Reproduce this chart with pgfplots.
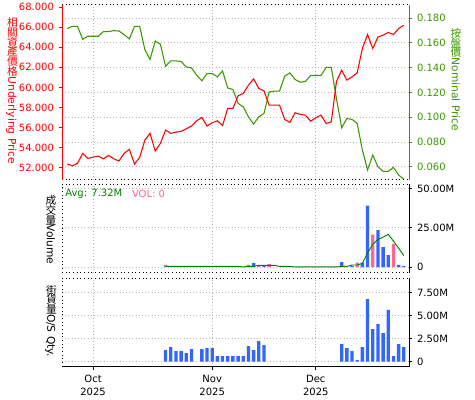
\documentclass[border=0pt]{standalone}
\usepackage{fontspec}
\setmainfont{DejaVu Sans}
\newfontfamily\cjk{Noto Sans CJK TC}
\usepackage{graphicx}
\usepackage{pgfplots}
\pgfplotsset{compat=1.18}

\definecolor{cred}{RGB}{255,0,0}
\definecolor{cgreen}{RGB}{60,150,0}
\definecolor{cavg}{RGB}{0,128,0}
\definecolor{cblue}{RGB}{51,102,255}
\definecolor{cpink}{RGB}{255,102,153}
\definecolor{cgrid}{RGB}{180,180,180}

\newcommand{\up}[1]{\raisebox{-0.12em}{\rotatebox{90}{\cjk #1}}}

\pgfplotstableread{
x y
-5 52.37
-4 52.20
-3 52.44
-2 53.43
-1 52.93
0 53.06
1 53.16
2 52.89
3 53.23
4 52.89
5 52.67
6 53.43
7 53.83
8 52.37
9 53.03
10 54.75
11 55.42
12 53.66
13 54.43
14 55.75
15 55.42
16 55.55
17 55.62
18 55.88
19 56.15
20 56.67
21 57.01
22 56.15
23 56.48
24 56.67
25 56.21
26 57.90
27 57.90
28 59.16
29 59.40
30 60.22
31 60.85
32 59.89
33 59.65
34 58.23
35 58.23
36 58.23
37 56.81
38 56.51
39 57.47
40 57.31
41 57.24
42 56.64
43 56.97
44 57.24
45 56.41
46 56.57
47 60.60
48 61.71
49 60.72
50 61.05
51 61.45
52 63.87
53 65.26
54 63.87
55 65.02
56 65.19
57 65.46
58 65.26
59 65.86
60 66.18
}\underlying

\pgfplotstableread{
x y
-5 0.1715
-4 0.1733
-3 0.1733
-2 0.1628
-1 0.1653
0 0.1653
1 0.1653
2 0.1690
3 0.1690
4 0.1698
5 0.1695
6 0.1666
7 0.1631
8 0.1733
9 0.1733
10 0.1545
11 0.1465
12 0.1615
13 0.1588
14 0.1411
15 0.1454
16 0.1454
17 0.1449
18 0.1405
19 0.1397
20 0.1339
21 0.1293
22 0.1352
23 0.1352
24 0.1325
25 0.1373
26 0.1236
27 0.1223
28 0.1111
29 0.1083
30 0.1003
31 0.0944
32 0.1003
33 0.1030
34 0.1204
35 0.1210
36 0.1210
37 0.1331
38 0.1357
39 0.1304
40 0.1282
41 0.1288
42 0.1336
43 0.1336
44 0.1336
45 0.1401
46 0.1401
47 0.1150
48 0.0914
49 0.0989
50 0.0982
51 0.0949
52 0.0735
53 0.0574
54 0.0694
55 0.0600
56 0.0563
57 0.0563
58 0.0595
59 0.0533
60 0.0499
}\nominal

\pgfplotstableread{
x y
14 1.3
30 1.3
32 0.6
34 1.9
51 2.75
54 20.6
58 14.8
}\volup

\pgfplotstableread{
x y
31 2.5
33 0.6
48 3.2
50 0.85
52 2.75
53 39.0
55 23.5
56 12.7
57 7.6
59 1.3
60 0.6
}\voldown

\pgfplotstableread{
x y
14 0.45
15 0.45
16 0.45
17 0.45
18 0.45
19 0.45
20 0.45
21 0.45
22 0.45
23 0.45
24 0.45
25 0.45
26 0.45
27 0.45
28 0.45
29 0.05
30 0.45
31 0.45
32 1.1
33 1.1
34 1.1
35 1.1
36 0.45
37 0.45
38 0.45
39 0.05
40 0.05
41 0.05
42 0.05
43 0.05
44 0.05
45 0.05
46 0.05
47 0.05
48 0.4
49 0.4
50 1.3
51 1.3
52 2.3
53 9.0
54 14.5
55 17.5
56 19.0
57 20.8
58 16.5
59 12.0
60 7.3
}\volavg

\pgfplotstableread{
x y
14 1.27
15 1.59
16 1.16
17 1.16
18 0.94
19 1.38
21 1.38
22 1.49
23 1.49
24 0.62
25 0.62
26 0.62
27 0.62
28 0.62
29 0.62
30 1.70
31 1.27
32 2.25
33 1.81
48 1.92
49 1.49
50 1.16
51 0.18
52 1.59
53 6.81
54 3.55
55 4.09
56 3.12
57 5.62
58 0.62
59 1.92
60 1.59
}\osqty

\pgfplotsset{
  base/.style={
    scale only axis, anchor=south west,
    xmin=-6, xmax=61, width=260.25pt,
    axis line style={draw=none},
    major tick length=2.5pt, tick align=outside,
    tick style={line width=0.6pt},
    font=\fontsize{7.5}{9}\selectfont,
    /pgf/number format/assume math mode=true,
    grid style={cgrid, dotted, line width=0.6pt},
  },
}

\begin{document}
\begin{tikzpicture}
\useasboundingbox (0,0) rectangle (356.25pt,300pt);

% ---------- top panel: right axis (nominal price) ----------
\begin{axis}[base, at={(46.5pt,165pt)}, height=131.25pt,
  ymin=0.0493, ymax=0.1905,
  ytick={0.06,0.08,0.10,0.12,0.14,0.16,0.18},
  yticklabels={0.060,0.080,0.100,0.120,0.140,0.160,0.180},
  ytick pos=right, y tick style={cgreen},
  yticklabel style={text=cgreen},
  xtick={0,23,43}, xticklabels={}, x tick style={draw=none},
  grid=major]
\addplot[cgreen, line width=0.8pt, no markers] table[x=x,y=y] {\nominal};
\end{axis}

% ---------- top panel: left axis (underlying price) ----------
\begin{axis}[base, at={(46.5pt,165pt)}, height=131.25pt,
  ymin=50.78, ymax=68.2,
  ytick={52,54,56,58,60,62,64,66,68},
  yticklabels={52.000,54.000,56.000,58.000,60.000,62.000,64.000,66.000,68.000},
  ytick pos=left, y tick style={cred},
  yticklabel style={text=cred},
  xtick=\empty]
\addplot[cred, line width=0.8pt, no markers] table[x=x,y=y] {\underlying};
\end{axis}

% ---------- middle panel: volume ----------
\begin{axis}[base, at={(46.5pt,95.475pt)}, height=66.15pt,
  ymin=-3.6, ymax=52.5,
  ytick={0,25,50}, yticklabels={0,25.00M,50.00M},
  ytick pos=right, y tick style={black},
  xtick={0,23,43}, xticklabels={}, x tick style={draw=none},
  grid=major]
\addplot[ybar, bar width=2.5pt, bar shift=0pt, fill=cpink, draw=none] table[x=x,y=y] {\volup};
\addplot[ybar, bar width=2.5pt, bar shift=0pt, fill=cblue, draw=none] table[x=x,y=y] {\voldown};
\addplot[cavg, line width=0.7pt, no markers] table[x=x,y=y] {\volavg};
\end{axis}

% ---------- bottom panel: outstanding quantity ----------
\begin{axis}[base, at={(46.5pt,24.975pt)}, height=66.15pt,
  ymin=-0.54, ymax=9.04,
  ytick={0,2.5,5,7.5}, yticklabels={0,2.50M,5.00M,7.50M},
  ytick pos=right, y tick style={black},
  xtick={0,23,43},
  xticklabels={{Oct\\2025},{Nov\\2025},{Dec\\2025}},
  xtick pos=bottom, x tick style={black},
  xticklabel style={align=center, font=\fontsize{7.5}{10}\selectfont},
  grid=major]
\addplot[ybar, bar width=2.5pt, bar shift=0pt, fill=cblue, draw=none] table[x=x,y=y] {\osqty};
\end{axis}

% ---------- frames ----------
% top
\draw[black, dotted, line width=0.75pt] (46.5pt,296.25pt) -- (306.75pt,296.25pt);
\draw[black, dotted, line width=0.75pt] (46.5pt,165pt) -- (306.75pt,165pt);
\draw[cred, line width=0.75pt] (46.5pt,165pt) -- (46.5pt,296.25pt);
\draw[cgreen, line width=0.75pt] (306.75pt,165pt) -- (306.75pt,296.25pt);
% middle
\draw[black, dotted, line width=0.75pt] (46.5pt,161.625pt) -- (306.75pt,161.625pt);
\draw[black, dotted, line width=0.75pt] (46.5pt,95.475pt) -- (306.75pt,95.475pt);
\draw[black, dotted, line width=0.75pt] (46.5pt,95.475pt) -- (46.5pt,161.625pt);
\draw[black, line width=0.75pt] (306.75pt,95.475pt) -- (306.75pt,161.625pt);
% bottom
\draw[black, dotted, line width=0.75pt] (46.5pt,91.125pt) -- (306.75pt,91.125pt);
\draw[black, dotted, line width=0.75pt] (46.5pt,24.975pt) -- (46.5pt,91.125pt);
\draw[black, line width=0.75pt] (46.5pt,24.975pt) -- (306.75pt,24.975pt);
\draw[black, line width=0.75pt] (306.75pt,24.975pt) -- (306.75pt,91.125pt);

% ---------- labels ----------
\node[rotate=-90, text=cred, font=\fontsize{8}{9}\selectfont, inner sep=0pt] at (9pt,231.75pt)
  {\up{相}\up{關}\up{資}\up{產}\up{價}\up{格}Underlying Price};
\node[rotate=-90, text=cgreen, font=\fontsize{8}{9}\selectfont, inner sep=0pt] at (342pt,240pt)
  {\up{按}\up{盤}\up{價}Nominal Price};
\node[rotate=-90, text=black, font=\fontsize{8}{9}\selectfont, inner sep=0pt] at (38.25pt,127.5pt)
  {\up{成}\up{交}\up{量}Volume};
\node[rotate=-90, text=black, font=\fontsize{8}{9}\selectfont, inner sep=0pt] at (38.25pt,59.25pt)
  {\up{街}\up{貨}\up{量}O/S Qty.};
\node[anchor=west, text=cavg, font=\fontsize{7.5}{9}\selectfont, inner sep=0pt] at (48.75pt,154.5pt) {Avg: 7.32M};
\node[anchor=west, text=cpink, font=\fontsize{7.5}{9}\selectfont, inner sep=0pt] at (98.8pt,154.5pt) {VOL: 0};
\end{tikzpicture}
\end{document}
